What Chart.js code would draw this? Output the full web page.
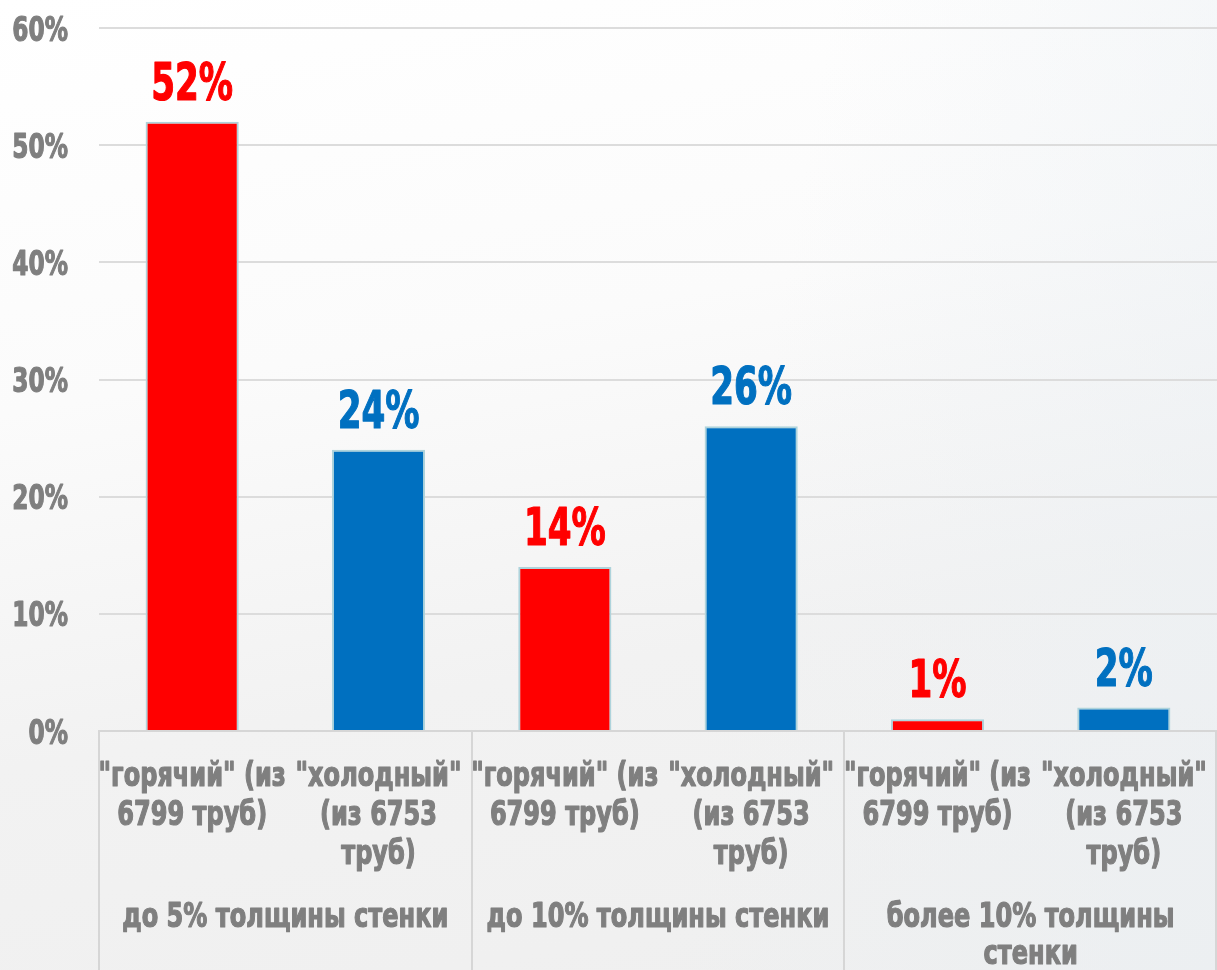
<!DOCTYPE html>
<html lang="ru">
<head>
<meta charset="utf-8">
<title>Дефекты по толщине стенки</title>
<script src="https://cdn.jsdelivr.net/npm/chart.js@4"></script>
<style>
  html, body { margin: 0; padding: 0; }
  body {
    width: 1217px; height: 970px; overflow: hidden;
    background:
      linear-gradient(100deg, rgba(255,255,255,0) 60%, rgba(234,239,243,0.6) 100%),
      linear-gradient(170deg, #ffffff 0%, #fbfbfb 35%, #f2f2f2 65%, #efefef 100%);
  }
  #wrap { position: relative; width: 1217px; height: 970px; }
</style>
</head>
<body>
<div id="wrap"><canvas id="chart" width="1217" height="970"></canvas></div>
<script>
// Pipe types, one bar each
const pipeLabels = [
  ['"горячий" (из', '6799 труб)'],
  ['"холодный"', '(из 6753', 'труб)'],
  ['"горячий" (из', '6799 труб)'],
  ['"холодный"', '(из 6753', 'труб)'],
  ['"горячий" (из', '6799 труб)'],
  ['"холодный"', '(из 6753', 'труб)']
];
// Wall-thickness groups, each spanning two bars
const groupLabels = [
  ['до 5% толщины стенки'],
  ['до 10% толщины стенки'],
  ['более 10% толщины', 'стенки']
];
// Share of pipes, percent
const shareValues = [52, 24, 14, 26, 1, 2];
const barColors = ['#ff0000', '#0070c0', '#ff0000', '#0070c0', '#ff0000', '#0070c0'];
const yTicks = [0, 10, 20, 30, 40, 50, 60];

const FONT = '"DejaVu Sans Condensed", "DejaVu Sans", sans-serif';
const GREY = '#7f7f7f';

// Draw heavy text condensed horizontally around its anchor point
function narrowText(ctx, text, x, y, align, squeeze) {
  ctx.save();
  ctx.translate(x, y);
  ctx.scale(squeeze, 1);
  ctx.textAlign = align;
  ctx.textBaseline = 'alphabetic';
  ctx.strokeStyle = ctx.fillStyle;
  ctx.lineWidth = 1.2;
  ctx.lineJoin = 'round';
  ctx.strokeText(text, 0, 0);
  ctx.fillText(text, 0, 0);
  ctx.restore();
}

// Axis lettering, value labels, group separators and group captions
const lettering = {
  id: 'lettering',
  afterDraw(chart) {
    const { ctx, chartArea } = chart;
    const x = chart.scales.x;
    const y = chart.scales.y;
    const step = x.getPixelForValue(1) - x.getPixelForValue(0);
    ctx.save();

    // y tick labels
    ctx.font = 'bold 34px ' + FONT;
    ctx.fillStyle = GREY;
    yTicks.forEach(v => narrowText(ctx, v + '%', 68, y.getPixelForValue(v) + 12.5, 'right', 0.76));

    // value labels above the bars
    ctx.font = 'bold 52px ' + FONT;
    chart.getDatasetMeta(0).data.forEach((bar, i) => {
      ctx.fillStyle = barColors[i];
      narrowText(ctx, shareValues[i] + '%', bar.x, bar.y - 22, 'center', 0.73);
    });

    // pipe-type labels
    ctx.font = 'bold 33px ' + FONT;
    ctx.fillStyle = GREY;
    chart.data.labels.forEach((lines, i) => {
      const cx = x.getPixelForValue(i);
      lines.forEach((t, k) => narrowText(ctx, t, cx, chartArea.bottom + 55 + k * 39, 'center', 0.81));
    });

    // group separators
    ctx.strokeStyle = '#d6d6d6';
    ctx.lineWidth = 2;
    for (let g = 0; g <= groupLabels.length; g++) {
      const px = Math.min(Math.round(x.getPixelForValue(g * 2) - step / 2), chart.width - 1);
      ctx.beginPath();
      ctx.moveTo(px, chartArea.bottom);
      ctx.lineTo(px, chart.height);
      ctx.stroke();
    }

    // group captions
    ctx.fillStyle = GREY;
    groupLabels.forEach((lines, g) => {
      const cx = (x.getPixelForValue(g * 2) + x.getPixelForValue(g * 2 + 1)) / 2;
      lines.forEach((t, k) => narrowText(ctx, t, cx, chartArea.bottom + 196 + k * 37, 'center', 0.81));
    });
    ctx.restore();
  }
};

new Chart(document.getElementById('chart'), {
  type: 'bar',
  data: {
    labels: pipeLabels,
    datasets: [{
      data: shareValues,
      backgroundColor: barColors,
      borderColor: '#aed3db',
      borderWidth: 2,
      categoryPercentage: 1,
      barPercentage: 0.5
    }]
  },
  options: {
    responsive: false,
    animation: false,
    layout: { padding: { top: 28, right: 0, bottom: 0, left: 0 } },
    plugins: { legend: { display: false }, tooltip: { enabled: false } },
    scales: {
      x: {
        offset: true,
        grid: { display: false },
        border: { display: true, color: '#d6d6d6', width: 2 },
        ticks: { display: false },
        afterFit(scale) { scale.height = 239; }
      },
      y: {
        min: 0,
        max: 60,
        afterBuildTicks(scale) { scale.ticks = yTicks.map(v => ({ value: v })); },
        grid: { color: '#dcdcdc', lineWidth: 2, drawTicks: false },
        border: { display: false },
        ticks: { display: false },
        afterFit(scale) { scale.width = 99; }
      }
    }
  },
  plugins: [lettering]
});
</script>
</body>
</html>
